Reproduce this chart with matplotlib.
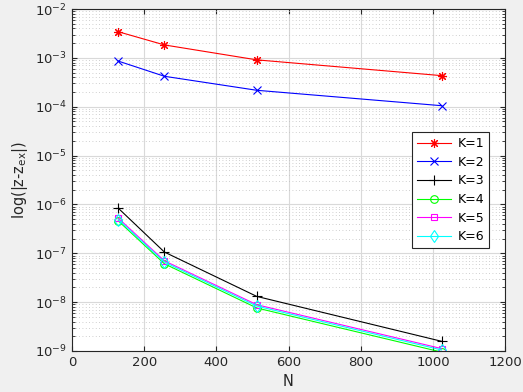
import numpy as np
import matplotlib
matplotlib.use("Agg")
import matplotlib.pyplot as plt

N = [128, 256, 512, 1024]
err_k1 = [3.43e-3, 1.84e-3, 9.1e-4, 4.33e-4]
err_k2 = [8.6e-4, 4.2e-4, 2.17e-4, 1.05e-4]
err_k3 = [8.4e-7, 1.06e-7, 1.31e-8, 1.58e-9]
err_k4 = [4.62e-7, 6.1e-8, 7.6e-9, 9.5e-10]
err_k5 = [5.25e-7, 7.0e-8, 8.85e-9, 1.12e-9]
err_k6 = [4.9e-7, 6.6e-8, 8.3e-9, 1.05e-9]

series = [err_k1, err_k2, err_k3, err_k4, err_k5, err_k6]
labels = ["K=1", "K=2", "K=3", "K=4", "K=5", "K=6"]
colors = ["#ff0000", "#0000ff", "#000000", "#00ff00", "#ff00ff", "#00ffff"]
# matlab-ish markers: asterisk, x, plus, circle, square, thin diamond
markers = [(8, 2, 0), "x", "+", "o", "s", "d"]
sizes = [6.5, 6, 7, 5.5, 5, 6]

plt.rcParams["font.size"] = 9.5
fig = plt.figure(figsize=(5.23, 3.92), dpi=100, facecolor="#f0f0f0")
ax = fig.add_axes([0.1377, 0.1046, 0.828, 0.8724])

for y, lab, c, m, ms in zip(series, labels, colors, markers, sizes):
    ax.semilogy(N, y, color=c, marker=m, markersize=ms, markeredgewidth=0.8,
                markerfacecolor="none", markeredgecolor=c, linewidth=0.8, label=lab)

ax.set_xlim(0, 1200)
ax.set_ylim(1e-9, 1e-2)
ax.set_xticks(np.arange(0, 1201, 200))
ax.set_yticks([10.0 ** e for e in range(-9, -1)])

ax.grid(True, which="major", color="#d9d9d9", linewidth=0.8)
ax.grid(True, which="minor", axis="y", color="#c0c0c0", linestyle=(0, (1, 3)), linewidth=0.6)
ax.set_axisbelow(True)

ax.tick_params(which="both", direction="in", top=True, right=True, colors="#262626")
ax.tick_params(which="minor", length=2)
for s in ax.spines.values():
    s.set_color("#262626")

ax.set_xlabel("N", color="#262626", fontsize=10.5)
ax.set_ylabel(r"log(|z-z$_{\rm ex}$|)", color="#262626", fontsize=10.5)

leg = ax.legend(loc="upper right", bbox_to_anchor=(0.963, 0.64), borderaxespad=0,
                fontsize=9, fancybox=False, framealpha=1, edgecolor="#262626",
                handlelength=2.7, handletextpad=0.5, borderpad=0.4, labelspacing=0.45)
leg.get_frame().set_linewidth(0.8)

fig.savefig("out.png", dpi=100, facecolor=fig.get_facecolor())
